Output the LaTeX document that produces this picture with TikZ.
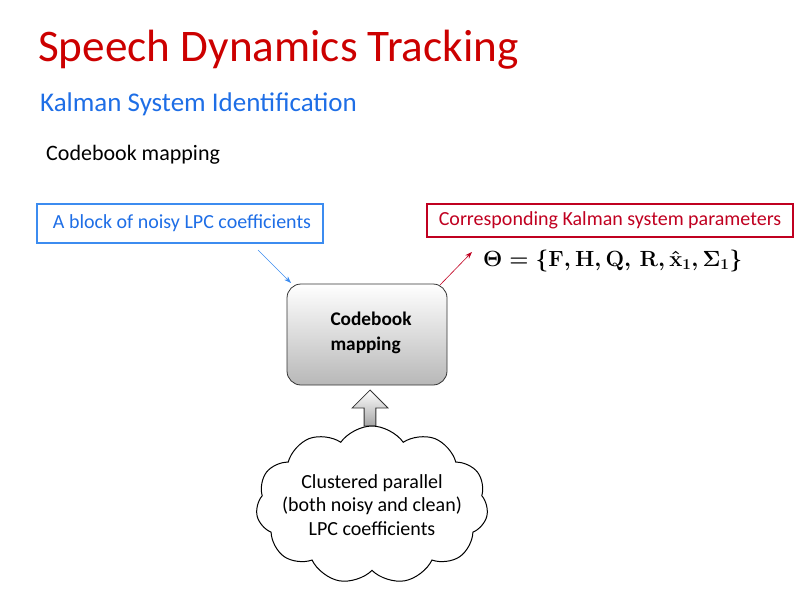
\documentclass[tikz,border=0pt]{standalone}
\usepackage{fontspec}
\setmainfont{Carlito}
\usepackage{amsmath,amssymb,graphicx}
\usetikzlibrary{shapes.symbols,shapes.arrows,arrows.meta}
\definecolor{tred}{RGB}{204,0,0}
\definecolor{tblue}{RGB}{30,110,230}
\definecolor{bblue}{RGB}{60,140,240}
\definecolor{dred}{RGB}{192,0,32}
\tikzset{
  lbl/.style={anchor=base west, inner sep=0pt},
  tagbox/.style={draw, line width=1.2pt, inner xsep=0pt, font=\fontsize{20}{24}\selectfont},
  conn/.style={-{Stealth[length=7pt,width=5pt]}, line width=0.6pt},
}
\begin{document}
\begin{tikzpicture}[x=1pt,y=-1pt]
\useasboundingbox (0,0) rectangle (800,599);
\node[lbl, text=tred, font=\fontsize{45.2}{50}\selectfont] (title) at (38,62) {Speech Dynamics Tracking};
\node[lbl, text=tblue, font=\fontsize{27}{30}\selectfont] (sub) at (40,112) {Kalman System Identification};
\node[lbl, font=\fontsize{22}{26}\selectfont] (cm) at (46,160) {Codebook mapping};

\node[tagbox, draw=bblue, text=tblue, minimum width=286pt, minimum height=39pt] (blk) at (180,223.5) {\hspace*{4pt}A block of noisy LPC coefficients};
\node[tagbox, draw=dred, text=dred, minimum width=366pt, minimum height=33pt] (par) at (610,220.5) {Corresponding Kalman system parameters};
\node[anchor=west, inner sep=0pt] (theta) at (483,261) {\resizebox{259pt}{!}{\fontsize{20}{24}\selectfont$\boldsymbol{\Theta=\{\mathbf{F},\mathbf{H},\mathbf{Q},\,\mathbf{R},\hat{\mathbf{x}}_1,\boldsymbol{\Sigma}_1\}}$}};

\node[draw=black!80, line width=0.8pt, rounded corners=14pt, minimum width=160pt, minimum height=101pt,
  top color=white, bottom color=black!28] (cb) at (367,334.5) {};
\node[anchor=west, align=left, font=\bfseries\fontsize{19.3}{25}\selectfont] (cbt) at (327,333) {Codebook\\mapping};

\coordinate (bs) at (258,250);
\coordinate (be) at (291,283);
\draw[conn, draw=bblue] (bs) -- (be);
\coordinate (rs) at (440,285);
\coordinate (re) at (472,252);
\draw[conn, draw=dred] (rs) -- (re);

\node[draw=black!80, line width=0.8pt, single arrow, shape border rotate=90, minimum height=36pt, minimum width=36pt,
  single arrow head extend=7pt, single arrow tip angle=90, inner sep=3pt, top color=white, bottom color=black!35] (up) at (370,411) {};

\node[cloud, draw, line width=1pt, cloud puffs=11, cloud puff arc=110, aspect=1.45, minimum width=232pt, minimum height=158pt, fill=white] (cloud) at (372,505) {};
\node[align=center, font=\fontsize{20}{23.5}\selectfont] (ct) at (372,505) {Clustered parallel\\(both noisy and clean)\\LPC coefficients};
\end{tikzpicture}
\end{document}
